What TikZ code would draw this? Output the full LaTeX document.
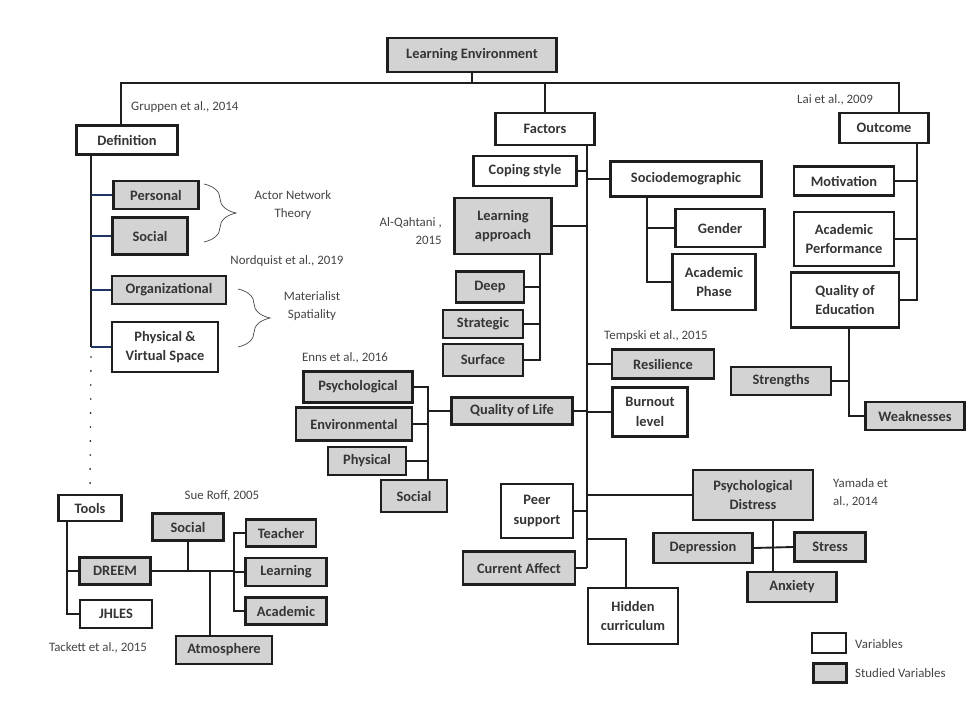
\documentclass[tikz,border=0pt]{standalone}
\usepackage{fontspec}
\setmainfont{Carlito}
\usepackage{xcolor}
\usepackage{tikz}
\usetikzlibrary{positioning,calc,decorations.pathreplacing}
\definecolor{studied}{HTML}{D3D3D3}
\definecolor{ink}{HTML}{1E1E1E}
\definecolor{navy}{HTML}{1F3566}
\definecolor{note}{HTML}{444444}
\tikzset{
  var/.style={
    draw=ink, line width=2.2pt, fill=white, align=center, inner sep=1pt,
    font=\fontsize{12.3}{16.5}\selectfont\bfseries, text=ink!90
  },
  svar/.style={var, fill=studied},
  sz/.style 2 args={minimum width=#1*0.3mm, minimum height=#2*0.3mm},
  link/.style={draw=ink, line width=1.6pt},
  blink/.style={draw=navy, line width=1.6pt},
  cite/.style={font=\fontsize{11}{15.5}\selectfont, text=note, inner sep=0pt},
  bracket/.style={draw=note, line width=0.6pt, decorate,
    decoration={brace, amplitude=9.6mm}},
}

\begin{document}
\begin{tikzpicture}[x=0.3mm, y=-0.3mm]
    \useasboundingbox (0,0) rectangle (966,704);

    % top level
    \node[svar, sz={169}{34}] (le)  at (472,55)  {Learning Environment};
    \node[var,  sz={101}{29}] (def) at (127,140) {Definition};
    \node[var,  sz={99}{32}]  (fac) at (545,129) {Factors};
    \node[var,  sz={89}{30}]  (out) at (884,128) {Outcome};

    % definition branch
    \node[svar, sz={85}{28}]  (pers) at (156,195) {Personal};
    \node[svar, sz={75}{37}]  (socd) at (150,236) {Social};
    \node[svar, sz={114}{28}] (org)  at (169,290) {Organizational};
    \node[var,  sz={106}{50}] (pvs)  at (165,347) {Physical \&\\Virtual Space};

    % tools branch
    \node[var,  sz={63}{26}]  (tools) at (90,508)  {Tools};
    \node[svar, sz={71}{27}]  (dreem) at (115,571) {DREEM};
    \node[var,  sz={72}{28}]  (jhles) at (116,614) {JHLES};
    \node[svar, sz={71}{27}]  (soct)  at (188,527) {Social};
    \node[svar, sz={96}{28}]  (atm)   at (224,650) {Atmosphere};
    \node[svar, sz={70}{27}]  (tea)   at (281,533) {Teacher};
    \node[svar, sz={81}{28}]  (lrn)   at (286,572) {Learning};
    \node[svar, sz={81}{27}]  (acad)  at (286,611) {Academic};

    % factors branch
    \node[var,  sz={103}{30}] (cop)   at (525,171) {Coping style};
    \node[var,  sz={151}{35}] (soc)   at (686,179) {Sociodemographic};
    \node[svar, sz={97}{56}]  (lap)   at (503,226) {Learning\\approach};
    \node[var,  sz={89}{38}]  (gen)   at (720,228) {Gender};
    \node[var,  sz={83}{56}]  (aph)   at (714,282) {Academic\\Phase};
    \node[svar, sz={68}{31}]  (deep)  at (490,287) {Deep};
    \node[svar, sz={80}{28}]  (strat) at (483,324) {Strategic};
    \node[svar, sz={80}{32}]  (surf)  at (483,360) {Surface};
    \node[svar, sz={102}{29}] (res)   at (663,364) {Resilience};
    \node[var,  sz={75}{49}]  (burn)  at (650,412) {Burnout\\level};
    \node[svar, sz={121}{27}] (qol)   at (512,411) {Quality of Life};
    \node[svar, sz={109}{31}] (psy)   at (358,387) {Psychological};
    \node[svar, sz={116}{33}] (env)   at (354,424) {Environmental};
    \node[svar, sz={78}{28}]  (phy)   at (367,461) {Physical};
    \node[svar, sz={66}{32}]  (socl)  at (414,496) {Social};
    \node[var,  sz={72}{54}]  (peer)  at (537,511) {Peer\\support};
    \node[svar, sz={120}{50}] (pdis)  at (753,495) {Psychological\\Distress};
    \node[svar, sz={112}{33}] (cur)   at (519,568) {Current Affect};
    \node[var,  sz={90}{56}]  (hid)   at (633,616) {Hidden\\curriculum};
    \node[svar, sz={99}{30}]  (dep)   at (703,548) {Depression};
    \node[svar, sz={71}{29}]  (stre)  at (830,547) {Stress};
    \node[svar, sz={89}{30}]  (anx)   at (792,587) {Anxiety};

    % outcome branch
    \node[var,  sz={100}{29}] (mot)  at (844,181) {Motivation};
    \node[var,  sz={100}{54}] (aper) at (844,239) {Academic\\Performance};
    \node[var,  sz={108}{55}] (qoe)  at (845,300) {Quality of\\Education};
    \node[svar, sz={100}{28}] (str)  at (781,381) {Strengths};
    \node[svar, sz={99}{28}]  (weak) at (915,416) {Weaknesses};

    % sources
    \node[cite, anchor=west] (grup) at (131,107) {Gruppen et al., 2014};
    \node[cite] (lai)  at (835,100) {Lai et al., 2009};
    \node[cite, align=center] (ant) at (293,205) {Actor Network\\Theory};
    \node[cite] (nord) at (287,261) {Nordquist et al., 2019};
    \node[cite, align=center] (mat) at (312,306) {Materialist\\Spatiality};
    \node[cite, align=right, anchor=east] (alq) at (442,231) {Al-Qahtani ,\\2015};
    \node[cite] (enns) at (345,358) {Enns et al., 2016};
    \node[cite] (temp) at (656,336) {Tempski et al., 2015};
    \node[cite] (roff) at (222,496) {Sue Roff, 2005};
    \node[cite] (tack) at (98,648)  {Tackett et al., 2015};
    \node[cite, align=left, anchor=west] (yam) at (833,493) {Yamada et\\al., 2014};

    % legend
    \node[var,  sz={34}{20}] (lgv) at (829,643) {};
    \node[svar, sz={33}{19}] (lgs) at (830,673) {};
    \node[cite, anchor=west] at (855,644) {Variables};
    \node[cite, anchor=west] at (855,673) {Studied Variables};

    % spines
    \coordinate (bl)  at (121,83);
    \coordinate (br)  at (899,83);
    \coordinate (dsp) at (91,0);
    \coordinate (tsp) at (67,0);
    \coordinate (asp) at (234,0);
    \coordinate (fsp) at (587,0);
    \coordinate (ssp) at (647,0);
    \coordinate (lsp) at (540,0);
    \coordinate (esp) at (428,0);
    \coordinate (osp) at (917,0);
    \coordinate (qsp) at (849,0);
    \coordinate (psp) at (773,0);
    \coordinate (hj)  at (587,539);

    \draw[link] (def.north -| bl) -- (bl) -- (br) -- (out.north -| br);
    \draw[link] (le.south) -- (le.south |- bl);
    \draw[link] (fac.north) -- (fac.north |- bl);

    % definition
    \draw[link] (def.south -| dsp) -- (dsp |- pvs.west);
    \draw[blink] (pers.west) -- (pers.west -| dsp);
    \draw[blink] (socd.west) -- (socd.west -| dsp);
    \draw[blink] (org.west) -- (org.west -| dsp);
    \draw[blink] (pvs.west) -- (pvs.west -| dsp);
    \draw[link, line cap=round, dash pattern=on 0pt off 4.2mm]
         ([yshift=-3mm]dsp |- pvs.west) -- (tools.north);
    \draw[bracket] (204,184) -- (204,242);
    \draw[bracket] (238,289) -- (238,347);

    % tools
    \draw[link] (tools.south -| tsp) |- (jhles.west);
    \draw[link] (dreem.west) -- (dreem.west -| tsp);
    \draw[link] (dreem.east) -- (dreem.east -| asp);
    \draw[link] (soct.south) -- (soct.south |- dreem.east);
    \draw[link] ([xshift=-4.2mm]atm.north) -- ([xshift=-4.2mm]atm.north |- dreem.east);
    \draw[link] (tea.west) -| (asp |- acad.west) -- (acad.west);
    \draw[link] (lrn.west) -- (lrn.west -| asp);

    % factors
    \draw[link] (fac.south -| fsp) -- (fsp |- cur.east);
    \draw[link] (cop.east) -- (cop.east -| fsp);
    \draw[link] (soc.west) -- (soc.west -| fsp);
    \draw[link] (lap.east) -- (lap.east -| fsp);
    \draw[link] (res.west) -- (res.west -| fsp);
    \draw[link] (burn.west) -- (burn.west -| fsp);
    \draw[link] (qol.east) -- (qol.east -| fsp);
    \draw[link] (peer.east) -- (peer.east -| fsp);
    \draw[link] (pdis.west) -- (pdis.west -| fsp);
    \draw[link] (cur.east) -- (cur.east -| fsp);
    \draw[link] (hj) -| ([xshift=-2.1mm]hid.north);
    \draw[link] (soc.south -| ssp) |- (aph.west);
    \draw[link] (gen.west) -- (gen.west -| ssp);
    \draw[link] (lap.south -| lsp) |- (surf.east);
    \draw[link] (deep.east) -- (deep.east -| lsp);
    \draw[link] (strat.east) -- (strat.east -| lsp);
    \draw[link] (psy.east) -| (esp |- socl.north);
    \draw[link] (env.east) -- (env.east -| esp);
    \draw[link] (phy.east) -- (phy.east -| esp);
    \draw[link] (qol.west) -- (qol.west -| esp);
    \draw[link] (pdis.south -| psp) -- (psp |- anx.north);
    \draw[link] (dep.east) -- (stre.west);

    % outcome
    \draw[link] (out.south -| osp) |- (qoe.east);
    \draw[link] (mot.east) -- (mot.east -| osp);
    \draw[link] (aper.east) -- (aper.east -| osp);
    \draw[link] (qoe.south -| qsp) |- (weak.west);
    \draw[link] (str.east) -- (str.east -| qsp);
  \end{tikzpicture}
\end{document}
